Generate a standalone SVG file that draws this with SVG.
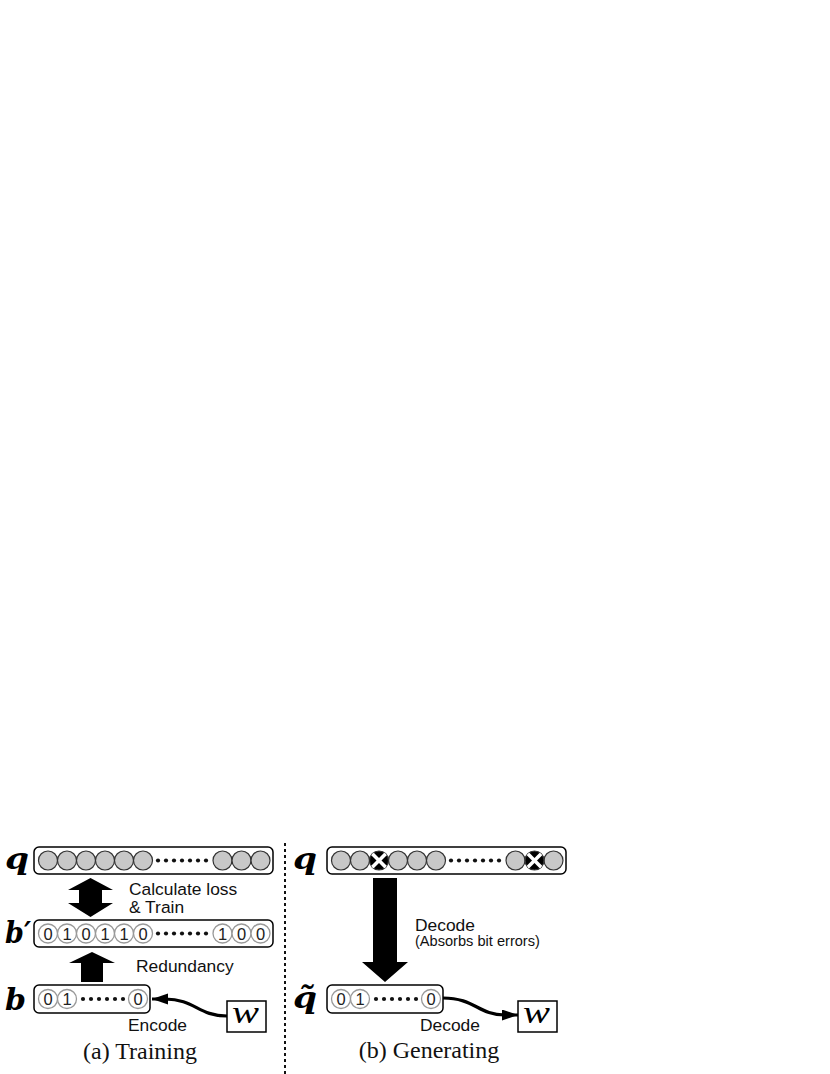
<svg xmlns="http://www.w3.org/2000/svg" xmlns:xlink="http://www.w3.org/1999/xlink" width="830" height="1074" viewBox="0 0 830 1074">
<style>
.box{fill:#fff;stroke:#000;stroke-width:1.5}
.gc{fill:#c8c8c8;stroke:#333;stroke-width:1.2}
.dc{fill:#fff;stroke:#999;stroke-width:1.3}
.dg{font-family:"Liberation Sans",Arial,sans-serif;font-size:16.5px;fill:#222;text-anchor:middle}
.dot{fill:#111}
.lbl{font-family:"Liberation Sans",Arial,sans-serif;font-size:17.4px;fill:#111}
.sm{font-family:"Liberation Sans",Arial,sans-serif;font-size:14.6px;fill:#111}
.cap{font-family:"Liberation Serif","Times New Roman",serif;font-size:24px;fill:#111;text-anchor:middle}
.math{font-family:"DejaVu Serif","Liberation Serif",serif;font-weight:bold;font-style:italic;font-size:30px;fill:#000}
.mw{font-family:"Liberation Serif","Times New Roman",serif;font-style:italic;font-size:32px;fill:#000}
.arr{fill:#000}
.con{fill:none;stroke:#000;stroke-width:3.2}
</style>
<defs>
<marker id="ah" markerUnits="userSpaceOnUse" markerWidth="18" markerHeight="13" refX="16" refY="5.5" orient="auto">
<path d="M0,0 L16,5.5 L0,11 Z" fill="#000"/>
</marker>
<clipPath id="xc"><circle cx="0" cy="0" r="9.5"/></clipPath>
<g id="xcirc">
<circle cx="0" cy="0" r="9.5" fill="#000" stroke="#333" stroke-width="1.2"/>
<g clip-path="url(#xc)" stroke="#fff" stroke-width="3.6">
<line x1="-9" y1="-9" x2="9" y2="9"/><line x1="9" y1="-9" x2="-9" y2="9"/>
</g>
</g>
</defs>

<!-- divider -->
<line x1="285" y1="843" x2="285" y2="1074" stroke="#111" stroke-width="2" stroke-dasharray="3 3"/>

<!-- Left: q -->
<g id="q-left">
<text class="math" x="5" y="869" textLength="24" lengthAdjust="spacingAndGlyphs">q</text>
<rect class="box" x="34" y="847" width="239" height="27" rx="5"/>
<circle class="gc" cx="48" cy="860.5" r="9.5"/><circle class="gc" cx="67" cy="860.5" r="9.5"/><circle class="gc" cx="86" cy="860.5" r="9.5"/><circle class="gc" cx="105" cy="860.5" r="9.5"/><circle class="gc" cx="124" cy="860.5" r="9.5"/><circle class="gc" cx="143" cy="860.5" r="9.5"/>
<circle class="dot" cx="158" cy="860.5" r="2.1"/><circle class="dot" cx="166" cy="860.5" r="2.1"/><circle class="dot" cx="174" cy="860.5" r="2.1"/><circle class="dot" cx="182" cy="860.5" r="2.1"/><circle class="dot" cx="190" cy="860.5" r="2.1"/><circle class="dot" cx="198" cy="860.5" r="2.1"/><circle class="dot" cx="206" cy="860.5" r="2.1"/>
<circle class="gc" cx="222.5" cy="860.5" r="9.5"/><circle class="gc" cx="241.5" cy="860.5" r="9.5"/><circle class="gc" cx="260.5" cy="860.5" r="9.5"/>
</g>

<!-- Left: b' -->
<g id="bprime">
<text class="math" x="5" y="943" textLength="26" lengthAdjust="spacingAndGlyphs">b′</text>
<rect class="box" x="34" y="920" width="239" height="27" rx="5"/>
<circle class="dc" cx="48" cy="933.5" r="9.5"/><circle class="dc" cx="67" cy="933.5" r="9.5"/><circle class="dc" cx="86" cy="933.5" r="9.5"/><circle class="dc" cx="105" cy="933.5" r="9.5"/><circle class="dc" cx="124" cy="933.5" r="9.5"/><circle class="dc" cx="143" cy="933.5" r="9.5"/>
<text class="dg" x="48" y="939.5">0</text><text class="dg" x="67" y="939.5">1</text><text class="dg" x="86" y="939.5">0</text><text class="dg" x="105" y="939.5">1</text><text class="dg" x="124" y="939.5">1</text><text class="dg" x="143" y="939.5">0</text>
<circle class="dot" cx="158" cy="933.5" r="2.1"/><circle class="dot" cx="166" cy="933.5" r="2.1"/><circle class="dot" cx="174" cy="933.5" r="2.1"/><circle class="dot" cx="182" cy="933.5" r="2.1"/><circle class="dot" cx="190" cy="933.5" r="2.1"/><circle class="dot" cx="198" cy="933.5" r="2.1"/><circle class="dot" cx="206" cy="933.5" r="2.1"/>
<circle class="dc" cx="222.5" cy="933.5" r="9.5"/><circle class="dc" cx="241.5" cy="933.5" r="9.5"/><circle class="dc" cx="260.5" cy="933.5" r="9.5"/>
<text class="dg" x="222.5" y="939.5">1</text><text class="dg" x="241.5" y="939.5">0</text><text class="dg" x="260.5" y="939.5">0</text>
</g>

<!-- Left: b -->
<g id="b-left">
<text class="math" x="5" y="1010" textLength="21" lengthAdjust="spacingAndGlyphs">b</text>
<rect class="box" x="34" y="985" width="116" height="28" rx="5"/>
<circle class="dc" cx="48" cy="999" r="9.5"/><circle class="dc" cx="67" cy="999" r="9.5"/>
<text class="dg" x="48" y="1005">0</text><text class="dg" x="67" y="1005">1</text>
<circle class="dot" cx="83" cy="999" r="2.1"/><circle class="dot" cx="91" cy="999" r="2.1"/><circle class="dot" cx="99" cy="999" r="2.1"/><circle class="dot" cx="107" cy="999" r="2.1"/><circle class="dot" cx="115" cy="999" r="2.1"/><circle class="dot" cx="123" cy="999" r="2.1"/>
<circle class="dc" cx="138" cy="999" r="9.5"/>
<text class="dg" x="138" y="1005">0</text>
</g>

<!-- Left: w -->
<g id="w-left">
<rect x="227" y="1001" width="39" height="31" fill="#fff" stroke="#000" stroke-width="1.5"/>
<text class="mw" x="232" y="1023" textLength="27" lengthAdjust="spacingAndGlyphs">w</text>
</g>

<!-- Right: q -->
<g id="q-right">
<text class="math" x="293" y="869" textLength="24" lengthAdjust="spacingAndGlyphs">q</text>
<rect class="box" x="327" y="847" width="239" height="27" rx="5"/>
<circle class="gc" cx="341" cy="860.5" r="9.5"/><circle class="gc" cx="360" cy="860.5" r="9.5"/>
<circle class="gc" cx="398" cy="860.5" r="9.5"/><circle class="gc" cx="417" cy="860.5" r="9.5"/><circle class="gc" cx="436" cy="860.5" r="9.5"/>
<use xlink:href="#xcirc" href="#xcirc" transform="translate(379,860.5)"/>
<circle class="dot" cx="451" cy="860.5" r="2.1"/><circle class="dot" cx="459" cy="860.5" r="2.1"/><circle class="dot" cx="467" cy="860.5" r="2.1"/><circle class="dot" cx="475" cy="860.5" r="2.1"/><circle class="dot" cx="483" cy="860.5" r="2.1"/><circle class="dot" cx="491" cy="860.5" r="2.1"/><circle class="dot" cx="499" cy="860.5" r="2.1"/>
<circle class="gc" cx="515.5" cy="860.5" r="9.5"/><circle class="gc" cx="553.5" cy="860.5" r="9.5"/>
<use xlink:href="#xcirc" href="#xcirc" transform="translate(534.5,860.5)"/>
</g>

<!-- Right: q tilde -->
<g id="qtilde">
<text class="math" x="293" y="1008" textLength="24" lengthAdjust="spacingAndGlyphs">q̃</text>
<rect class="box" x="327" y="985" width="116" height="28" rx="5"/>
<circle class="dc" cx="341" cy="999" r="9.5"/><circle class="dc" cx="360" cy="999" r="9.5"/>
<text class="dg" x="341" y="1005">0</text><text class="dg" x="360" y="1005">1</text>
<circle class="dot" cx="376" cy="999" r="2.1"/><circle class="dot" cx="384" cy="999" r="2.1"/><circle class="dot" cx="392" cy="999" r="2.1"/><circle class="dot" cx="400" cy="999" r="2.1"/><circle class="dot" cx="408" cy="999" r="2.1"/><circle class="dot" cx="416" cy="999" r="2.1"/>
<circle class="dc" cx="431" cy="999" r="9.5"/>
<text class="dg" x="431" y="1005">0</text>
</g>

<!-- Right: w -->
<g id="w-right">
<rect x="518" y="1001" width="39" height="31" fill="#fff" stroke="#000" stroke-width="1.5"/>
<text class="mw" x="523" y="1023" textLength="27" lengthAdjust="spacingAndGlyphs">w</text>
</g>

<!-- connectors -->
<g id="connectors">
<polygon id="arrow-loss" class="arr" points="90.5,878 113,890 102,890 102,903 113,903 90.5,917 68,903 79,903 79,890 68,890"/>
<polygon id="arrow-redundancy" class="arr" points="92,952 115,963 103,963 103,982 81,982 81,963 69,963"/>
<polygon id="arrow-decode-big" class="arr" points="373,878 397,878 397,962 408,962 385,982 362,962 373,962"/>
<path id="arrow-encode" class="con" d="M227,1016 C198,1016 195,999 165,999 L152,999" marker-end="url(#ah)"/>
<path id="arrow-decode" class="con" d="M443,998 C475,998 478,1015 505,1015 L518,1015" marker-end="url(#ah)"/>
</g>

<!-- labels -->
<g id="labels">
<text class="lbl" x="129" y="895">Calculate loss</text>
<text class="lbl" x="129" y="913">&amp; Train</text>
<text class="lbl" x="136" y="972">Redundancy</text>
<text class="lbl" x="128" y="1031">Encode</text>
<text class="cap" x="140" y="1059">(a) Training</text>
<text class="lbl" x="415" y="931">Decode</text>
<text class="sm" x="415" y="946">(Absorbs bit errors)</text>
<text class="lbl" x="420" y="1031">Decode</text>
<text class="cap" x="429" y="1058">(b) Generating</text>
</g>
</svg>
